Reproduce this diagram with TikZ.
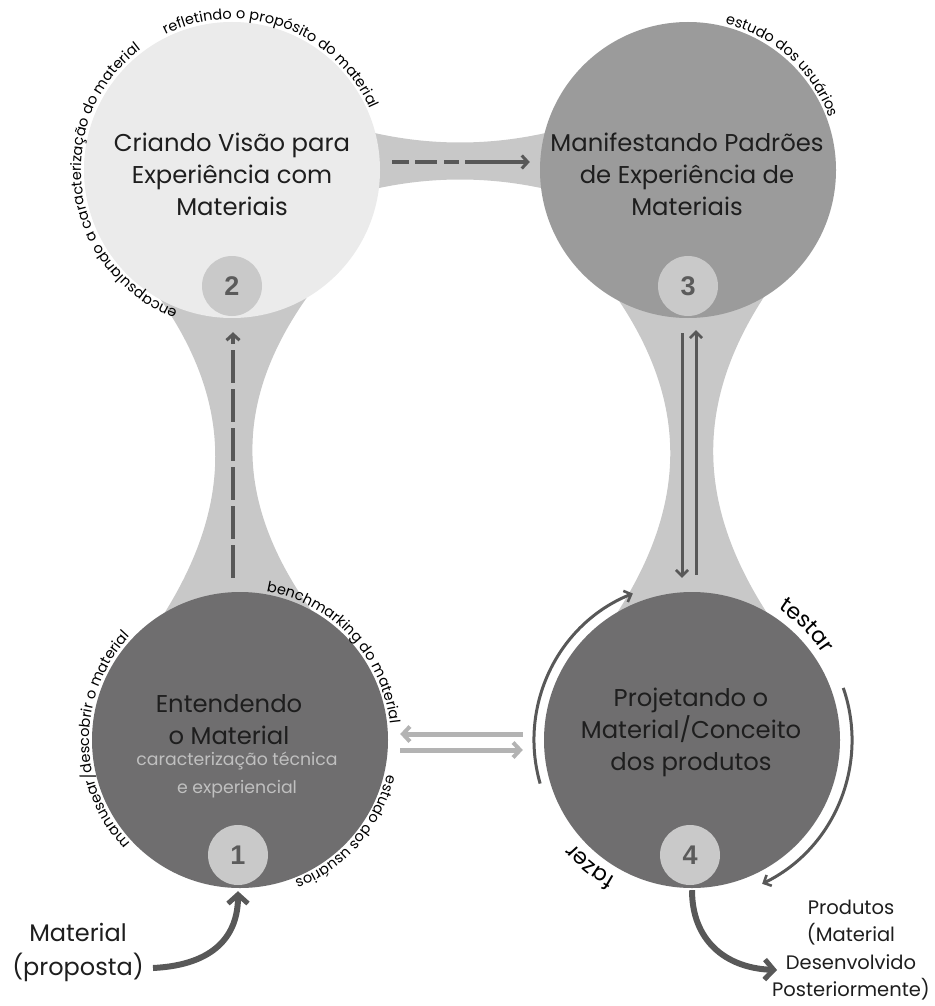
\documentclass[tikz,border=0pt]{standalone}
\usepackage{fontspec}
\setmainfont{Poppins}
\newfontfamily\numfont{Liberation Sans}
\usetikzlibrary{arrows.meta,decorations.text,calc}

\definecolor{lightc}{HTML}{EBEBEB}
\definecolor{midc}{HTML}{9B9B9B}
\definecolor{darkc}{HTML}{6F6E6F}
\definecolor{bridgec}{HTML}{C8C8C8}
\definecolor{badgec}{HTML}{C9C9C9}
\definecolor{numc}{HTML}{5B5B5B}
\definecolor{arrc}{HTML}{585858}
\definecolor{larrc}{HTML}{B3B3B3}
\definecolor{subc}{HTML}{C0C0C0}
\definecolor{txtc}{HTML}{1E1E1E}

\begin{document}
\begin{tikzpicture}[x=1pt,y=1pt,
  bigc/.style={circle, inner sep=0pt, minimum size=296pt, draw=none},
  badge/.style={circle, inner sep=0pt, minimum size=60pt, fill=badgec, text=numc,
    font=\numfont\bfseries\fontsize{27}{27}\selectfont},
  bridge/.style={fill=bridgec},
  maintext/.style={align=center, text=txtc, inner sep=0pt, font=\fontsize{24.3}{32}\selectfont},
  subtext/.style={align=center, text=subc, inner sep=0pt, font=\fontsize{17.3}{28}\selectfont},
  outtext/.style={align=center, text=txtc, inner sep=0pt},
  darr/.style={draw=arrc, line width=4pt, -{Straight Barb[length=6pt,width=13pt,line width=3pt]}},
  tarr/.style={draw=arrc, line width=3pt, -{Straight Barb[length=6pt,width=12pt,line width=2.6pt]}},
  larr/.style={draw=larrc, line width=5pt, -{Straight Barb[length=7pt,width=15pt,line width=4pt]}},
  bigarr/.style={draw=arrc, line width=6pt, -{Straight Barb[length=9pt,width=20pt,line width=5pt]}},
  arctxt/.style={decorate, decoration={text along path, text align=center,
    text={|\fontsize{14.5}{14.5}\selectfont|#1}}},
  bigarctxt/.style={decorate, decoration={text along path, text align=center,
    text={|\fontsize{22}{22}\selectfont|#1}}}
]
\useasboundingbox[fill=white] (0,0) rectangle (934,-1006);

% connecting bands between the stages
\fill[bridge] (150,-285) .. controls (237,-400) and (237,-510) .. (150,-635)
  -- (330,-635) .. controls (229,-510) and (229,-400) .. (316,-285) -- cycle;
\fill[bridge] (608,-285) .. controls (692,-400) and (692,-510) .. (602,-635)
  -- (782,-635) .. controls (692,-510) and (692,-400) .. (772,-285) -- cycle;
\fill[bridge] (370,-132) .. controls (430,-146) and (490,-146) .. (550,-132)
  -- (550,-190) .. controls (490,-176) and (430,-176) .. (370,-190) -- cycle;

% stage circles
\node[bigc, fill=lightc] (c2) at (232,-170) {};
\node[bigc, fill=midc] (c3) at (688,-170) {};
\node[bigc, fill=darkc] (c1) at (240,-740) {};
\node[bigc, fill=darkc] (c4) at (692,-740) {};

% stage numbers
\node[badge] (b2) at (232,-286) {2};
\node[badge] (b3) at (688,-286) {3};
\node[badge] (b1) at (238,-855) {1};
\node[badge] (b4) at (690,-855) {4};

% stage titles
\node[maintext] (t2) at (232,-174) {Criando Visão para\\Experiência com\\Materiais};
\node[maintext] (t3) at (687,-174) {Manifestando Padrões\\de Experiência de\\Materiais};
\node[maintext] (t4) at (691,-732) {Projetando o\\Material/Conceito\\dos produtos};
\node[maintext] (t1) at (229,-720) {Entendendo\\o Material};
\node[subtext] (s1) at (237,-775) {caracterização técnica\\e experiencial};

% flows between stages
\draw[darr, dash pattern=on 33pt off 6pt] ([xshift=-7,yshift=14]c1.north) -- ([xshift=1,yshift=-16]b2.south);
\draw[darr, dash pattern=on 17pt off 6pt on 22pt off 7pt on 15pt off 6pt on 80pt]
  ([xshift=12,yshift=8]c2.east) -- ([xshift=-10,yshift=8]c3.west);
\draw[tarr] ([xshift=-6,yshift=-17]b3.south) -- ([xshift=-10,yshift=14]c4.north);
\draw[tarr] ([xshift=4,yshift=17]c4.north) -- ([xshift=8,yshift=-14]b3.south);
\draw[larr] ([shift={(-21,6)}]c4.west) -- ([shift={(12,6)}]c1.east);
\draw[larr] ([shift={(12,-10)}]c1.east) -- ([shift={(-21,-10)}]c4.west);

% make / test loop around stage 4
\draw[tarr] ([shift={(196:158)}]c4.center) arc[start angle=196, end angle=112, radius=158];
\draw[tarr] ([shift={(19:160)}]c4.center) arc[start angle=19, end angle=-64, radius=160];
\path[bigarctxt=testar] ([shift={(105:157)}]c4.center) arc[start angle=105, end angle=-15, radius=157];
\path[bigarctxt=fazer] ([shift={(291:157)}]c4.center) arc[start angle=291, end angle=171, radius=157];

% activity labels along the circles
\path[arctxt=refletindo o propósito do material] ([shift={(150:151)}]c2.center) arc[start angle=150, end angle=-10, radius=151];
\path[arctxt=encapsulando a caracterização do material] ([shift={(278:151)}]c2.center) arc[start angle=278, end angle=98, radius=151];
\path[arctxt=estudo dos usuários] ([shift={(128:151)}]c3.center) arc[start angle=128, end angle=-32, radius=151];
\path[arctxt=manusear/descobrir o material] ([shift={(260:151)}]c1.center) arc[start angle=260, end angle=100, radius=151];
\path[arctxt=benchmarking do material] ([shift={(123:151)}]c1.center) arc[start angle=123, end angle=-37, radius=151];
\path[arctxt=estudo dos usuários] ([shift={(39:151)}]c1.center) arc[start angle=39, end angle=-121, radius=151];

% input and output
\node[outtext, font=\fontsize{24}{34}\selectfont] (mat) at (78,-952) {Material\\(proposta)};
\coordinate (matout) at (153,-968);
\draw[bigarr] (matout) .. controls (215,-965) and (238,-935) .. ([xshift=-2,yshift=-3]c1.south);
\node[outtext, font=\fontsize{19.5}{27.5}\selectfont] (prod) at (851,-950) {Produtos\\(Material\\Desenvolvido\\Posteriormente)};
\coordinate (prodin) at (777,-970);
\draw[bigarr] ([yshift=-2]c4.south) .. controls (692,-940) and (725,-968) .. (prodin);
\end{tikzpicture}
\end{document}
